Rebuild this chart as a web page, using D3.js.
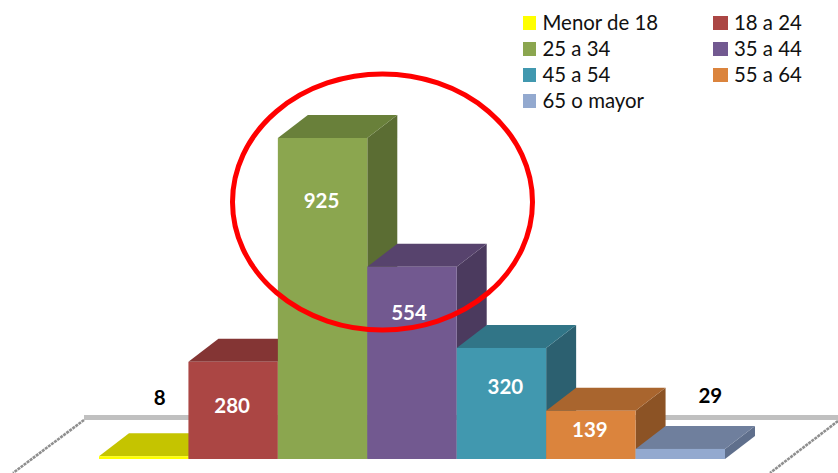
<!DOCTYPE html>
<html><head><meta charset="utf-8">
<script src="https://cdn.jsdelivr.net/npm/d3@7/dist/d3.min.js"></script>
<style>html,body{margin:0;padding:0;background:#fff}svg{display:block}text{font-family:Lato,"Open Sans",sans-serif}</style>
</head><body><div id="c"></div>
<script>
const categories=["Menor de 18","18 a 24","25 a 34","35 a 44","45 a 54","55 a 64","65 o mayor"];
const values=[8,280,925,554,320,139,29];
const frontColors=["#ffff00","#ab4644","#8ba64f","#725990","#4198af","#db843d","#93a9cf"];
const topColors=["#c5c400","#843534","#69803a","#57436d","#317587","#a9652e","#6f7f9d"];
const sideColors=["#a8a800","#6f2d2c","#5b6d33","#4b3a5e","#2c6070","#8c5325","#5f6f8c"];

const W=838,H=473;
const svg=d3.select("#c").append("svg").attr("width",W).attr("height",H);
const x=d3.scaleBand().domain(categories).range([99,725]).padding(0);
const y=d3.scaleLinear().domain([0,925]).range([459,138]);
const dx=30,dy=-23;
const line=d3.line();

// floor
const floor=svg.append("g").attr("fill","none");
floor.append("path").attr("d",line([[84,417.5],[838,417.5]])).attr("stroke","#c0c0c0").attr("stroke-width",5);
floor.selectAll("path.d").data([[[84,420],[13,473]],[[838,421],[770,473]]]).join("path").attr("class","d")
  .attr("d",line).attr("stroke","#8f8f8f").attr("stroke-width",2.6).attr("stroke-dasharray","3 0.8");

// bars, painted left to right
const bars=svg.append("g").selectAll("g").data(categories).join("g");
bars.append("path").attr("fill",(c,i)=>sideColors[i]).attr("d",(c,i)=>{
  const r=x(c)+x.bandwidth();
  return line([[r,y(0)],[r+dx,y(0)+dy],[r+dx,y(values[i])+dy],[r,y(values[i])]])+"Z";
});
bars.append("path").attr("fill",(c,i)=>topColors[i]).attr("d",(c,i)=>{
  const l=x(c),r=l+x.bandwidth(),t=y(values[i]);
  return line([[l,t],[l+dx,t+dy],[r+dx,t+dy],[r,t]])+"Z";
});
bars.append("rect").attr("fill",(c,i)=>frontColors[i])
  .attr("x",c=>x(c)).attr("width",x.bandwidth())
  .attr("y",(c,i)=>y(values[i])).attr("height",(c,i)=>y(0)-y(values[i]));

// data labels
const labelDY=[-58,44,63,46,39,19,-53];
const labelDX=[16,-1,-1,-3,4,-1,30];
svg.append("g").selectAll("text").data(categories).join("text")
  .attr("x",(c,i)=>x(c)+x.bandwidth()/2+labelDX[i])
  .attr("y",(c,i)=>y(values[i])+labelDY[i])
  .attr("dy","0.35em").attr("text-anchor","middle")
  .attr("font-size",20.5).attr("font-weight",700)
  .attr("fill",(c,i)=>(i===0||i===6)?"#000":"#fff")
  .text((c,i)=>values[i]);

// ellipse highlight
svg.append("ellipse").attr("cx",382.5).attr("cy",202).attr("rx",150).attr("ry",128)
  .attr("fill","none").attr("stroke","#ff0000").attr("stroke-width",5);

// legend
const leg=svg.append("g").selectAll("g").data(categories).join("g")
  .attr("transform",(c,i)=>`translate(${i%2?713:523},${16+26*Math.floor(i/2)})`);
leg.append("rect").attr("width",(c,i)=>i%2?15:13).attr("height",14).attr("fill",(c,i)=>frontColors[i]);
leg.append("text").attr("x",(c,i)=>i%2?21:19.5).attr("y",7).attr("dy","0.35em")
  .attr("font-size",20.4).attr("fill","#111").text(c=>c);
</script></body></html>
